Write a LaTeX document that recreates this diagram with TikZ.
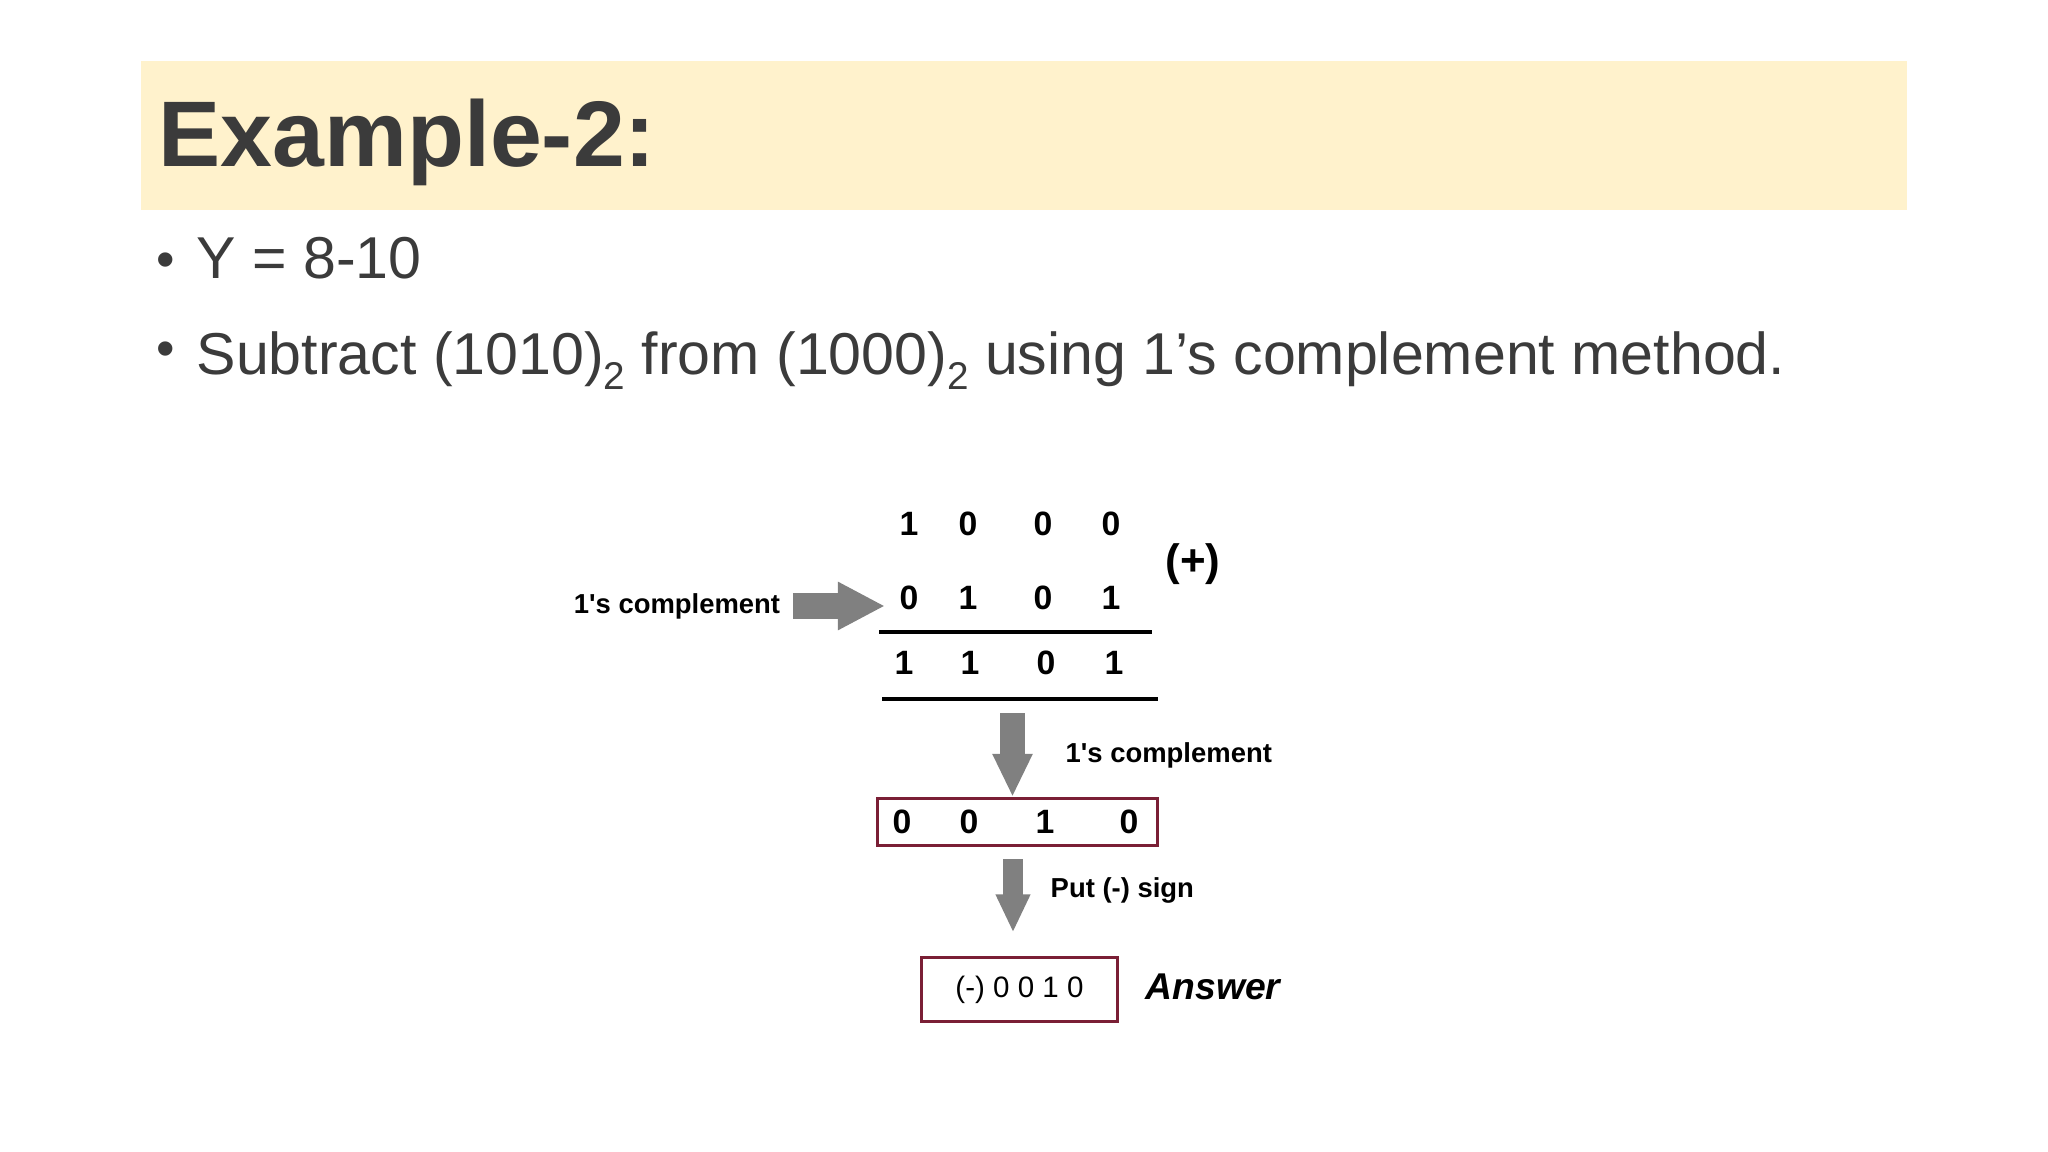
\documentclass[tikz,border=0pt]{standalone}
\usepackage{fontspec}
\setmainfont{Liberation Sans}
\usetikzlibrary{calc}
\usetikzlibrary{arrows.meta}
\definecolor{bannercol}{HTML}{FFF2CC}
\definecolor{txtgrey}{HTML}{3B3B3B}
\definecolor{arrowgrey}{HTML}{808080}
\definecolor{boxred}{HTML}{7A1F35}
\newcommand{\bsub}[1]{\raisebox{-0.45ex}{\fontsize{11}{12}\selectfont #1}}
\tikzset{%
  banner/.style   = {fill=bannercol},
  title/.style    = {anchor=base west, inner sep=0pt, text=txtgrey,
    font=\fontsize{26.5}{30}\selectfont\bfseries},
  bulletxt/.style = {anchor=base west, inner sep=0pt, text=txtgrey,
    font=\fontsize{16.8}{20}\selectfont},
  dot/.style      = {inner sep=0pt, text=txtgrey, font=\fontsize{15}{18}\selectfont},
  digit/.style    = {inner sep=0pt, font=\fontsize{9.6}{11}\selectfont\bfseries},
  lbl/.style      = {inner sep=0pt, font=\fontsize{7.8}{9}\selectfont\bfseries},
  resbox/.style   = {draw=boxred, line width=0.03cm, rectangle, inner sep=0pt},
  rule/.style     = {line width=0.04cm},
  fatright/.style = {draw=arrowgrey, line width=0.26cm,
    -{Triangle[length=0.47cm, width=0.45cm]}}, % side arrow
  fatdown/.style  = {draw=arrowgrey, line width=0.25cm,
    -{Triangle[length=0.43cm, width=0.37cm]}},
  fatdownsm/.style = {draw=arrowgrey, line width=0.20cm,
    -{Triangle[length=0.38cm, width=0.32cm]}}
}
\begin{document}
\begin{tikzpicture}[x=0.01cm, y=-0.01cm]
    \useasboundingbox[fill=white] (0,0) rectangle (2048,1152);
    \fill[banner] (141,61) rectangle (1907,210);
    \node[title, name=head] at (158,167) {Example-2:};
    % bullets
    \node[dot, name=dotA] at (166,265) {•};
    \node[bulletxt, name=lineA] at (196,279) {Y = 8-10};
    \node[dot, name=dotB] at (166,354) {•};
    \node[bulletxt, name=lineB] at (196,375)
        {Subtract (1010)\bsub{2} from (1000)\bsub{2} using 1’s complement method.};
    % the sum
    \draw
    node at (909,524) [digit, name=r1a]{1}
    node at (968,524) [digit, name=r1b]{0}
    node at (1043,524) [digit, name=r1c]{0}
    node at (1111,524) [digit, name=r1d]{0};
    \draw
    node at (909,598) [digit, name=r2a]{0}
    node at (968,598) [digit, name=r2b]{1}
    node at (1043,598) [digit, name=r2c]{0}
    node at (1111,598) [digit, name=r2d]{1};
    \draw
    node at (904,663) [digit, name=r3a]{1}
    node at (970,663) [digit, name=r3b]{1}
    node at (1046,663) [digit, name=r3c]{0}
    node at (1114,663) [digit, name=r3d]{1};
    \node[inner sep=0pt, font=\fontsize{12.5}{14}\selectfont\bfseries, name=plus] at (1193,564) {(+)};
    \coordinate (rule1L) at (879,632);
    \coordinate (rule1R) at (1152,632);
    \coordinate (rule2L) at (882,699);
    \coordinate (rule2R) at (1158,699);
    \draw[rule] (rule1L) -- (rule1R);
    \draw[rule] (rule2L) -- (rule2R);
    \node[lbl, name=cmpL] at (677,606) {1\textquotesingle s complement};
    \draw[fatright, shorten <=0.12cm, shorten >=0.14cm] (cmpL.east) -- (cmpL.east -| r2a.west);
    % result boxes
    \node[resbox, minimum width=2.79cm, minimum height=0.47cm, name=box1] at (1017.5,822) {};
    \draw
    node at (902,822) [digit, name=b1a]{0}
    node at (969,822) [digit, name=b1b]{0}
    node at (1045,822) [digit, name=b1c]{1}
    node at (1129,822) [digit, name=b1d]{0};
    \node[resbox, minimum width=1.95cm, minimum height=0.63cm,
        font=\fontsize{8.4}{10}\selectfont, name=box2] at (1019.5,989.5) {(-) 0 0 1 0};
    \draw[fatdown, shorten <=0.14cm] ($(box1.north |- rule2L)+(-5,0)$) -- ($(box1.north)+(-5,0)$);
    \node[lbl, anchor=west, name=cmpR] at (1065,755) {1\textquotesingle s complement};
    \draw[fatdownsm, shorten <=0.12cm, shorten >=0.24cm] ($(box1.south)+(-4.5,0)$) -- ($(box1.south |- box2.north)+(-4.5,0)$);
    \node[lbl, anchor=west, name=sign] at (1050,890) {Put (-) sign};
    \node[inner sep=0pt, anchor=west, font=\fontsize{10.6}{12}\selectfont\bfseries\itshape, name=ans] at (1145,987) {Answer};
\end{tikzpicture}
\end{document}
